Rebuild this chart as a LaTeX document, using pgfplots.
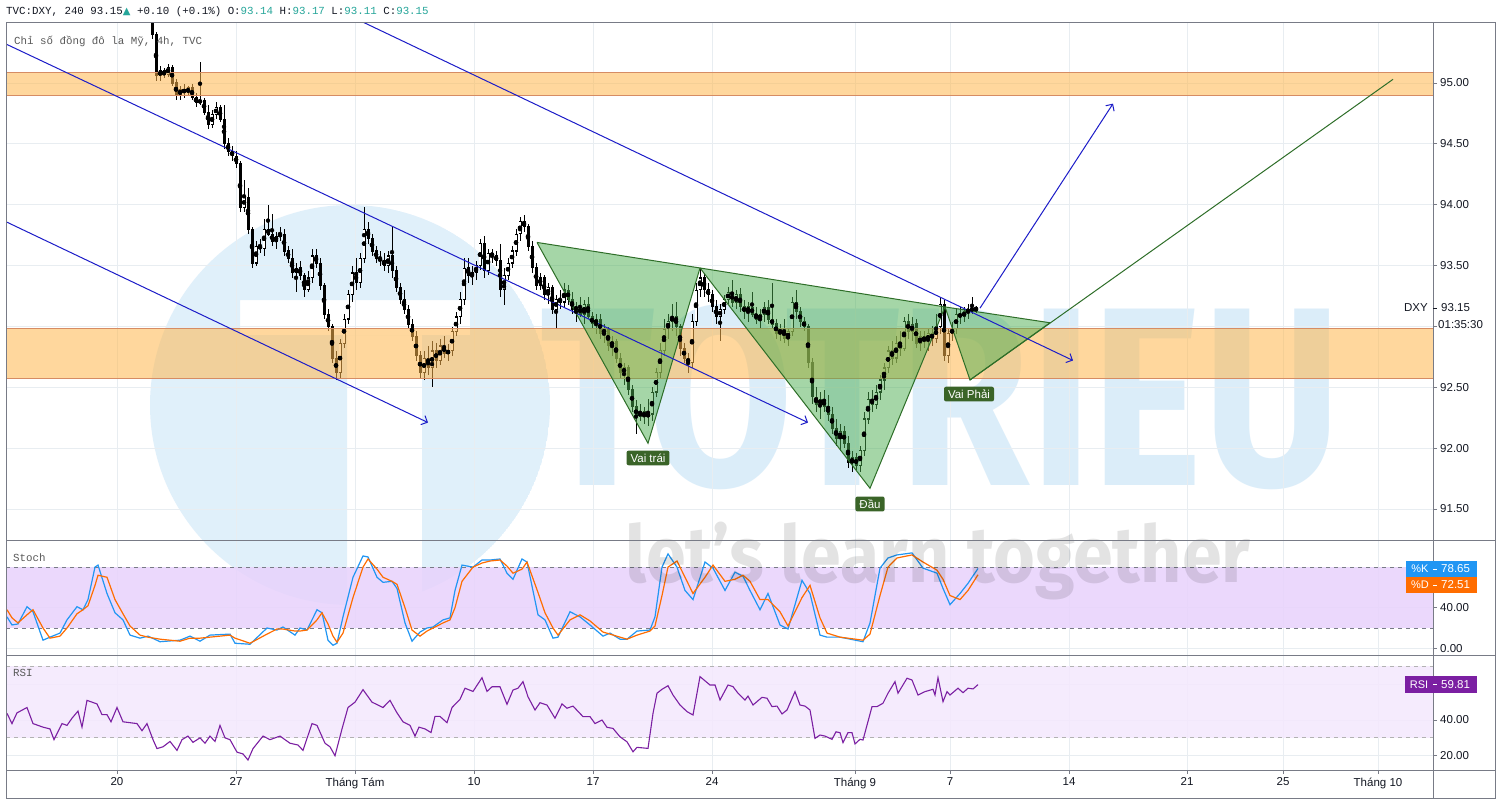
\documentclass[border=0pt]{standalone}
\usepackage{fontspec}
\setmainfont{Liberation Sans}
\newfontfamily\monof{Liberation Mono}
\newfontfamily\djs{DejaVu Sans}
\newfontfamily\wmfont{Fira Sans}
\usepackage{graphicx}
\usepackage{pgfplots}
\pgfplotsset{compat=1.18}
\usepackage{pgfplotstable}
\usetikzlibrary{arrows.meta}

\definecolor{frame}{RGB}{120,123,134}
\definecolor{gridc}{RGB}{232,237,241}
\definecolor{txt}{RGB}{19,23,34}
\definecolor{tvteal}{RGB}{38,166,154}
\definecolor{zonef}{RGB}{255,183,77}
\definecolor{zonee}{RGB}{214,140,100}
\definecolor{trif}{RGB}{76,175,80}
\definecolor{trie}{RGB}{46,110,40}
\definecolor{chan}{RGB}{28,28,200}
\definecolor{kcol}{RGB}{33,150,243}
\definecolor{dcol}{RGB}{255,109,0}
\definecolor{rsic}{RGB}{123,31,162}
\definecolor{stband}{RGB}{232,210,252}
\definecolor{rsiband}{RGB}{244,232,253}
\definecolor{lblg}{RGB}{58,100,40}
\definecolor{wmblue}{RGB}{200,228,247}

\pgfplotstableread{
x o h l c
152 95.62 95.70 95.36 95.40
156 95.40 95.42 95.02 95.06
160 95.06 95.14 95.02 95.10
164 95.10 95.12 95.04 95.07
168 95.07 95.16 95.05 95.13
172 95.13 95.15 94.98 95.00
176 95.00 95.03 94.86 94.90
180 94.90 94.98 94.86 94.95
184 94.95 94.99 94.88 94.92
188 94.92 94.98 94.90 94.96
192 94.96 94.99 94.86 94.88
196 94.88 94.92 94.80 94.84
200 94.84 95.17 94.82 94.86
204 94.86 94.88 94.74 94.76
208 94.76 94.82 94.62 94.66
212 94.66 94.78 94.63 94.74
216 94.74 94.84 94.70 94.80
220 94.80 94.82 94.68 94.70
224 94.70 94.82 94.46 94.50
228 94.50 94.55 94.40 94.44
232 94.44 94.48 94.36 94.40
236 94.40 94.44 94.30 94.34
240 94.34 94.36 93.94 93.98
244 93.98 94.20 93.94 94.06
248 94.06 94.14 93.76 93.80
252 93.80 93.82 93.48 93.52
256 93.52 93.70 93.50 93.66
260 93.66 93.72 93.60 93.64
264 93.64 93.88 93.58 93.80
268 93.80 94.00 93.74 93.76
272 93.76 93.92 93.66 93.70
276 93.70 93.78 93.64 93.74
280 93.74 93.82 93.70 93.76
284 93.76 93.80 93.58 93.62
288 93.62 93.66 93.52 93.56
292 93.56 93.64 93.40 93.44
296 93.44 93.52 93.28 93.48
300 93.48 93.54 93.38 93.42
304 93.42 93.44 93.24 93.30
308 93.30 93.46 93.28 93.40
312 93.40 93.64 93.36 93.58
316 93.58 93.64 93.48 93.52
320 93.52 93.56 93.30 93.34
324 93.34 93.36 93.06 93.10
328 93.10 93.14 92.96 93.00
332 93.00 93.02 92.70 92.74
336 92.74 92.80 92.56 92.62
340 92.62 92.90 92.58 92.86
344 92.86 93.10 92.82 93.06
348 93.06 93.30 93.02 93.26
352 93.26 93.50 93.20 93.44
356 93.44 93.56 93.30 93.36
360 93.36 93.60 93.32 93.56
364 93.56 93.98 93.52 93.80
368 93.80 93.86 93.68 93.72
372 93.72 93.76 93.58 93.62
376 93.62 93.66 93.52 93.56
380 93.56 93.62 93.50 93.54
384 93.54 93.60 93.46 93.50
388 93.50 93.62 93.44 93.58
392 93.58 93.82 93.40 93.46
396 93.46 93.50 93.28 93.32
400 93.32 93.36 93.18 93.22
404 93.22 93.30 93.10 93.14
408 93.14 93.18 92.98 93.02
412 93.02 93.06 92.88 92.92
416 92.92 92.96 92.72 92.76
420 92.76 92.80 92.58 92.62
424 92.62 92.80 92.56 92.74
428 92.74 92.84 92.60 92.66
432 92.66 92.88 92.50 92.80
436 92.80 92.86 92.66 92.72
440 92.72 92.90 92.68 92.84
444 92.84 92.92 92.74 92.78
448 92.78 92.86 92.72 92.80
452 92.80 93.00 92.76 92.96
456 92.96 93.12 92.92 93.08
460 93.08 93.28 93.02 93.22
464 93.22 93.56 93.18 93.48
468 93.48 93.56 93.36 93.42
472 93.42 93.50 93.34 93.44
476 93.44 93.54 93.38 93.50
480 93.50 93.72 93.46 93.68
484 93.68 93.74 93.40 93.46
488 93.46 93.64 93.42 93.60
492 93.60 93.64 93.52 93.58
496 93.58 93.62 93.50 93.54
500 93.54 93.68 93.24 93.30
504 93.30 93.48 93.18 93.42
508 93.42 93.56 93.38 93.52
512 93.52 93.66 93.48 93.62
516 93.62 93.80 93.58 93.76
520 93.76 93.90 93.70 93.86
524 93.86 93.92 93.78 93.82
528 93.82 93.84 93.62 93.66
532 93.66 93.70 93.44 93.48
536 93.48 93.52 93.30 93.34
540 93.34 93.44 93.30 93.40
544 93.40 93.42 93.22 93.26
548 93.26 93.36 93.18 93.32
552 93.32 93.34 93.10 93.14
556 93.14 93.26 92.98 93.22
560 93.22 93.30 93.14 93.20
564 93.20 93.36 93.16 93.30
568 93.30 93.34 93.18 93.22
572 93.22 93.28 93.10 93.14
576 93.14 93.20 93.04 93.16
580 93.16 93.24 93.08 93.10
584 93.10 93.22 93.02 93.18
588 93.18 93.24 93.06 93.08
592 93.08 93.12 92.98 93.02
596 93.02 93.10 92.94 93.06
600 93.06 93.10 92.90 92.94
604 92.94 93.02 92.86 92.98
608 92.98 93.00 92.80 92.84
612 92.84 92.92 92.76 92.88
616 92.88 92.90 92.70 92.74
620 92.74 92.78 92.58 92.62
624 92.62 92.70 92.52 92.66
628 92.66 92.68 92.44 92.48
632 92.48 92.52 92.30 92.34
636 92.34 92.40 92.12 92.26
640 92.26 92.36 92.22 92.30
644 92.30 92.34 92.20 92.26
648 92.26 92.40 92.18 92.28
652 92.28 92.50 92.22 92.46
656 92.46 92.66 92.42 92.62
660 92.62 92.86 92.58 92.80
664 92.80 93.06 92.76 92.98
668 92.98 93.10 92.90 93.04
672 93.04 93.18 92.96 93.08
676 93.08 93.20 92.92 93.00
680 93.00 93.02 92.76 92.82
684 92.82 92.86 92.70 92.74
688 92.74 92.78 92.62 92.70
692 92.70 93.10 92.66 93.04
696 93.04 93.36 93.00 93.30
700 93.30 93.48 93.24 93.40
704 93.40 93.44 93.24 93.30
708 93.30 93.36 93.20 93.26
712 93.26 93.30 93.12 93.16
716 93.16 93.22 93.02 93.08
720 93.08 93.18 92.88 93.14
724 93.14 93.26 93.10 93.22
728 93.22 93.32 93.18 93.28
732 93.28 93.38 93.16 93.20
736 93.20 93.30 93.14 93.26
740 93.26 93.32 93.12 93.16
744 93.16 93.22 93.06 93.12
748 93.12 93.20 93.04 93.16
752 93.16 93.28 93.08 93.10
756 93.10 93.16 93.02 93.06
760 93.06 93.14 92.98 93.10
764 93.10 93.20 93.04 93.16
768 93.16 93.22 93.02 93.06
772 93.06 93.36 92.98 93.02
776 93.02 93.06 92.90 92.94
780 92.94 93.02 92.88 92.98
784 92.98 93.06 92.86 92.90
788 92.90 92.98 92.84 92.96
792 92.96 93.24 92.92 93.20
796 93.20 93.30 93.06 93.12
800 93.12 93.16 93.00 93.04
804 93.04 93.08 92.96 93.00
808 93.00 93.02 92.66 92.70
812 92.70 92.74 92.36 92.42
816 92.42 92.50 92.30 92.36
820 92.36 92.46 92.24 92.40
824 92.40 92.48 92.30 92.34
828 92.34 92.44 92.22 92.28
832 92.28 92.34 92.12 92.16
836 92.16 92.24 92.02 92.08
840 92.08 92.20 91.98 92.14
844 92.14 92.18 92.00 92.04
848 92.04 92.10 91.84 91.88
852 91.88 91.98 91.80 91.92
856 91.92 91.96 91.82 91.86
860 91.86 92.02 91.80 91.98
864 91.98 92.30 91.94 92.24
868 92.24 92.46 92.20 92.40
872 92.40 92.48 92.30 92.36
876 92.36 92.52 92.32 92.46
880 92.46 92.60 92.40 92.56
884 92.56 92.70 92.48 92.66
888 92.66 92.84 92.62 92.80
892 92.80 92.88 92.68 92.74
896 92.74 92.92 92.70 92.86
900 92.86 92.96 92.76 92.82
904 92.82 93.08 92.80 93.04
908 93.04 93.10 92.90 92.96
912 92.96 93.08 92.88 93.02
916 93.02 93.06 92.82 92.86
920 92.86 92.96 92.80 92.92
924 92.92 92.96 92.82 92.88
928 92.88 92.98 92.80 92.94
932 92.94 93.00 92.84 92.90
936 92.90 93.10 92.86 93.00
940 93.00 93.24 92.94 93.18
944 93.18 93.22 92.72 92.76
948 92.76 92.98 92.70 92.94
952 92.94 93.04 92.88 92.98
956 92.98 93.14 92.94 93.10
960 93.10 93.16 93.02 93.08
964 93.08 93.16 93.04 93.12
968 93.12 93.18 93.06 93.14
972 93.14 93.24 93.10 93.14
976 93.14 93.17 93.11 93.15
}\candles

\pgfplotsset{
  panel/.style={
    scale only axis, width=1427pt, xmin=6, xmax=1433,
    axis line style={draw=frame, line width=1pt},
    xtick={117,236,355,474,593,712,855,950,1069,1187,1283,1378},
    grid=major, major grid style={draw=gridc, line width=0.9pt},
    tick align=outside, major tick length=4pt,
    ytick pos=right, xtick pos=bottom, yticklabel pos=right,
    tick style={draw=frame, line width=0.8pt},
    yticklabel style={font=\fontsize{11.5}{13}\selectfont, text=txt, anchor=west, inner sep=0pt, xshift=3pt},
    xticklabel style={font=\fontsize{11.5}{13}\selectfont, text=txt},
  }
}

\begin{document}
\begin{tikzpicture}[x=1pt,y=1pt]
\useasboundingbox (0,0) rectangle (1500,-804);
\fill[white] (0,0) rectangle (1500,-804);

% watermark logo
\begin{scope}
\clip (350,-405) circle (200pt);
\fill[wmblue, opacity=0.55, even odd rule] (350,-405) circle (200pt) (240,-300) rectangle (470,-335) (347,-335) rectangle (422,-640);
\end{scope}
\node[anchor=south west, inner sep=0pt, text=wmblue, text opacity=0.65] at (540,-490) {\resizebox*{800pt}{185pt}{\wmfont\bfseries TOTRIEU}};

% ---------- price panel ----------
\begin{axis}[panel, at={(6pt,-22pt)}, anchor=north west, height=518pt,
  ymin=91.245, ymax=95.501,
  ytick={91.5,92,92.5,93,93.5,94,94.5,95},
  yticklabels={91.50,92.00,92.50,,93.50,94.00,94.50,95.00},
  xticklabels={}, xtick style={draw=none}]
% wicks
\addplot[only marks, mark=none, error bars/.cd, y dir=both, y explicit, error mark=none,
  error bar style={black, line width=0.9pt}]
  table[x=x, y expr={(\thisrow{h}+\thisrow{l})/2}, y error expr={(\thisrow{h}-\thisrow{l})/2}] {\candles};
% bodies
\addplot[only marks, mark=none, error bars/.cd, y dir=both, y explicit, error mark=none,
  error bar style={black, line width=3pt}]
  table[x=x, y expr={(\thisrow{o}+\thisrow{c})/2}, y error expr={abs(\thisrow{c}-\thisrow{o})/2+0.004}] {\candles};
% hollow inside of rising candles
\addplot[only marks, mark=none, error bars/.cd, y dir=both, y explicit, error mark=none,
  error bar style={white, line width=1.3pt}]
  table[x=x, y expr={(\thisrow{o}+\thisrow{c})/2}, y error expr={max(\thisrow{c}-\thisrow{o}-0.012,0)/2}] {\candles};
% zones
\addplot[fill=zonef, fill opacity=0.55, draw=zonee, line width=0.9pt] coordinates {(6,94.90)(1433,94.90)(1433,95.085)(6,95.085)(6,94.90)};
\addplot[fill=zonef, fill opacity=0.55, draw=zonee, line width=0.9pt] coordinates {(6,92.576)(1433,92.576)(1433,92.984)(6,92.984)(6,92.576)};
% head and shoulders
\addplot[fill=trif, fill opacity=0.5, draw=trie, line width=1pt] coordinates {(537,93.69)(700,93.48)(648,92.04)(537,93.69)};
\addplot[fill=trif, fill opacity=0.5, draw=trie, line width=1pt] coordinates {(700,93.48)(945,93.16)(870,91.67)(700,93.48)};
\addplot[fill=trif, fill opacity=0.5, draw=trie, line width=1pt] coordinates {(945,93.16)(1050,93.03)(970,92.56)(945,93.16)};
\addplot[trie, line width=1pt] coordinates {(970,92.56)(1393,95.03)};
% channel lines
\addplot[chan, line width=1pt, -{Straight Barb[length=5pt,width=10pt]}] coordinates {(6,95.32)(808,92.21)};
\addplot[chan, line width=1pt, -{Straight Barb[length=5pt,width=10pt]}] coordinates {(6,93.86)(428,92.21)};
\addplot[chan, line width=1pt, -{Straight Barb[length=5pt,width=10pt]}] coordinates {(340,95.59)(1073,92.72)};
\addplot[chan, line width=1pt, -{Straight Barb[length=5pt,width=10pt]}] coordinates {(980,93.15)(1113,94.83)};
% labels
\node[fill=lblg, text=white, rounded corners=2pt, inner xsep=4pt, inner ysep=3pt, font=\fontsize{11.5}{13}\selectfont] at (axis cs:648,91.919) {Vai trái};
\node[fill=lblg, text=white, rounded corners=2pt, inner xsep=4pt, inner ysep=3pt, font=\fontsize{11.5}{13}\selectfont] at (axis cs:870,91.541) {Đầu};
\node[fill=lblg, text=white, rounded corners=2pt, inner xsep=4pt, inner ysep=3pt, font=\fontsize{11.5}{13}\selectfont] at (axis cs:969,92.444) {Vai Phải};
\end{axis}

% ---------- stochastic panel ----------
\begin{axis}[panel, at={(6pt,-540pt)}, anchor=north west, height=115pt,
  ymin=-6.6, ymax=106.7, ytick={0,40,80}, yticklabels={0.00,40.00,},
  xticklabels={}, xtick style={draw=none}]
\addplot[draw=none, fill=stband, fill opacity=0.85] coordinates {(6,20)(1433,20)(1433,80)(6,80)};
\addplot[frame, line width=0.9pt, dash pattern=on 4pt off 4pt] coordinates {(6,80)(1433,80)};
\addplot[frame, line width=0.9pt, dash pattern=on 4pt off 4pt] coordinates {(6,20)(1433,20)};
\addplot[kcol, line width=1.2pt] coordinates {
(7,31)(12,23)(18,24)(27,41)(33,36)(43,8)(50,11)(60,15)(67,28)(77,41)(83,38)(88,48)(95,80)(98,82)
(107,54)(115,35)(123,28)(130,13)(140,10)(148,12)(160,6.5)(180,8)(190,12)(200,7)(210,13)(230,14)
(235,5)(250,4)(267,20)(277,18)(283,21)(295,13)(300,20)(307,18)(317,38)(322,35)(328,8)(333,3)
(337,5)(343,31)(353,70)(363,91)(368,90)(377,70)(383,65)(392,66)(397,59)(405,25)(412,7)(420,16)
(427,20)(433,21)(443,28)(450,30)(455,57)(462,82)(473,80)(482,87)(490,87)(500,88)(507,74)(513,68)
(522,88)(527,85)(538,33)(545,28)(553,10)(558,11)(570,36)(580,31)(590,23)(603,12)(610,15)(620,9)
(627,9)(637,17)(650,18)(655,31)(662,80)(668,93)(677,80)(685,57)(693,48)(705,85)(713,79)(725,57)
(735,75)(743,71)(750,57)(760,38)(768,54)(780,23)(788,19)(802,67)(810,54)(820,13)(827,11)(840,11)
(863,6.5)(870,25)(880,79)(888,89)(897,92)(912,94)(923,79)(937,74)(943,59)(950,43)(960,54)(968,64)(978,78.65)};
\addplot[dcol, line width=1.2pt] coordinates {
(7,38)(12,30)(18,25)(27,33)(33,38)(43,20)(50,10)(60,12)(67,20)(77,34)(83,38)(88,42)(95,62)(98,72)
(107,70)(115,48)(123,34)(130,22)(140,13)(148,11)(160,9)(180,7)(190,10)(200,10)(210,11)(230,13)
(235,10)(250,5)(267,14)(277,19)(283,19)(295,17)(300,17)(307,18)(317,28)(322,35)(328,24)(333,12)
(337,6)(343,15)(353,50)(363,80)(368,88)(377,78)(383,70)(392,66)(397,63)(405,40)(412,18)(420,12)
(427,17)(433,20)(443,25)(450,28)(455,40)(462,66)(473,80)(482,84)(490,86)(500,87)(507,81)(513,74)
(522,78)(527,85)(538,55)(545,35)(553,20)(558,13)(570,28)(580,33)(590,27)(603,16)(610,14)(620,11)
(627,9)(637,13)(650,17)(655,22)(662,52)(668,80)(677,86)(685,70)(693,54)(705,70)(713,82)(725,66)
(735,68)(743,72)(750,66)(760,48)(768,48)(780,36)(788,22)(802,50)(810,62)(820,30)(827,15)(840,11)
(863,8)(870,14)(880,52)(888,80)(897,89)(912,92)(923,85)(937,77)(943,68)(950,52)(960,48)(968,57)(978,72.51)};
\end{axis}

% ---------- RSI panel ----------
\begin{axis}[panel, at={(6pt,-655pt)}, anchor=north west, height=115pt,
  ymin=12, ymax=76.4, ytick={20,40,60}, yticklabels={20.00,40.00,},
  xticklabels={20,27,Tháng Tám,10,17,24,Tháng 9,7,14,21,25,Tháng 10}]
\addplot[draw=none, fill=rsiband, fill opacity=0.85] coordinates {(6,30)(1433,30)(1433,70)(6,70)};
\addplot[black!30, line width=0.9pt, dash pattern=on 4pt off 4pt] coordinates {(6,70)(1433,70)};
\addplot[black!30, line width=0.9pt, dash pattern=on 4pt off 4pt] coordinates {(6,30)(1433,30)};
\addplot[rsic, line width=1.1pt] coordinates {
(7,43.7)(12,38)(17,44)(27,47)(33,38)(43,36)(50,35)(54,29)(62,38)(67,37)(72,41)(78,45)(82,36)(87,51)
(97,49)(102,43)(107,43)(111,39)(117,47)(123,39)(137,38)(142,34)(147,38)(153,29)(157,24)(163,25)
(170,28)(177,23)(182,29)(188,31)(193,27.5)(200,30)(205,27)(210,31)(215,28)(220,37)(225,30)(230,29)
(237,22)(243,21)(248,17.6)(253,24)(263,31)(270,29)(280,31)(290,27)(298,26)(303,23)(312,38)(317,37)
(325,27)(330,25)(335,20)(342,35)(348,47)(355,50)(363,57)(372,50)(383,47)(390,51)(397,44)(403,39)
(410,37)(415,31)(419,36)(425,35)(431,33)(435,42)(440,42)(447,38.5)(452,47)(460,51.6)(465,57.8)
(473,56)(482,63.7)(487,56)(492,58.6)(500,58.6)(507,48.8)(513,56.8)(518,57.8)(523,61.5)(528,53)
(535,45.6)(540,49.7)(547,48.4)(555,41)(562,49)(567,46.6)(573,47.8)(583,41.9)(590,41.9)(595,38)
(602,40)(607,35.9)(613,35.3)(620,30.6)(627,27.8)(633,22.2)(637,24.7)(648,24.1)(653,43.7)(657,55)
(662,57.2)(668,59.2)(673,54)(680,48.4)(687,44.7)(693,42.8)(700,64.3)(710,59.6)(715,59.6)(720,51.2)
(728,59.6)(733,58.7)(738,55)(745,51.2)(748,53.4)(753,48.4)(762,52.7)(767,52.2)(772,47.5)(777,47.8)
(782,43.4)(787,45.6)(795,55.9)(800,48.4)(805,47.8)(810,45.6)(815,29.7)(820,31.6)(825,31)(832,29.2)
(836,33.4)(840,32.9)(843,27.3)(848,32.9)(852,32.9)(855,26.6)(860,29.2)(863,28.8)(872,47.5)(877,47.5)
(883,49.4)(888,55)(895,61.5)(898,55)(907,63.4)(912,62.4)(918,54)(925,55.9)(933,57.2)(935,54)
(938,63.7)(943,50.3)(947,55.9)(950,54)(958,57.8)(963,55.3)(968,57.8)(973,57.4)(978,59.81)};
\end{axis}

% watermark text
\node[anchor=south west, inner sep=0pt, text=black, text opacity=0.11] at (625,-600) {\resizebox*{625pt}{78pt}{\wmfont\bfseries let’s learn together}};

% frame
\draw[frame, line width=1pt] (6,-22) rectangle (1495,-798);
\draw[frame, line width=1pt] (1433,-22) -- (1433,-798);
\draw[frame, line width=1pt] (6,-540) -- (1495,-540);
\draw[frame, line width=1pt] (6,-655) -- (1495,-655);
\draw[frame, line width=1pt] (6,-770) -- (1495,-770);

% header
\node[anchor=west, inner sep=0pt, text=txt] at (6,-12) {\monof\fontsize{10.8}{12}\selectfont TVC:DXY, 240 93.15{\color{tvteal}\djs\fontsize{10}{12}\selectfont ▲} +0.10 (+0.1\%) O:{\color{tvteal}93.14} H:{\color{tvteal}93.17} L:{\color{tvteal}93.11} C:{\color{tvteal}93.15}};
\node[anchor=west, inner sep=0pt, text=black!65] at (14,-41) {\monof\fontsize{10.8}{12}\selectfont Chỉ số đồng đô la Mỹ, 4h, TVC};
\node[anchor=west, inner sep=0pt, text=black!65] at (13,-558) {\monof\fontsize{10.8}{12}\selectfont Stoch};
\node[anchor=west, inner sep=0pt, text=black!65] at (13,-673) {\monof\fontsize{10.8}{12}\selectfont RSI};

% right side labels
\node[anchor=east, inner sep=0pt, text=txt, font=\fontsize{11.5}{13}\selectfont] at (1428,-308) {DXY};
\draw[txt, line width=0.8pt] (1433,-308) -- (1437,-308);
\node[anchor=west, inner sep=0pt, text=txt, font=\fontsize{11.5}{13}\selectfont] at (1441,-308) {93.15};
\node[anchor=west, inner sep=0pt, text=txt, font=\fontsize{11.5}{13}\selectfont] at (1438,-325) {01:35:30};

\fill[kcol] (1406,-561) rectangle (1477,-577);
\fill[dcol] (1406,-577) rectangle (1477,-593);
\fill[rsic] (1405,-676) rectangle (1477,-693);
\draw[white, line width=0.8pt] (1433,-569) -- (1437,-569);
\draw[white, line width=0.8pt] (1433,-585) -- (1437,-585);
\draw[white, line width=0.8pt] (1433,-684.5) -- (1437,-684.5);
\node[text=white, font=\fontsize{11}{13}\selectfont, inner sep=0pt] at (1420,-569) {\%K};
\node[text=white, font=\fontsize{11}{13}\selectfont, inner sep=0pt] at (1420,-585) {\%D};
\node[text=white, font=\fontsize{11}{13}\selectfont, inner sep=0pt] at (1419,-684.5) {RSI};
\node[anchor=west, text=white, font=\fontsize{11.5}{13}\selectfont, inner sep=0pt] at (1441,-569) {78.65};
\node[anchor=west, text=white, font=\fontsize{11.5}{13}\selectfont, inner sep=0pt] at (1441,-585) {72.51};
\node[anchor=west, text=white, font=\fontsize{11.5}{13}\selectfont, inner sep=0pt] at (1441,-684.5) {59.81};
\end{tikzpicture}
\end{document}
